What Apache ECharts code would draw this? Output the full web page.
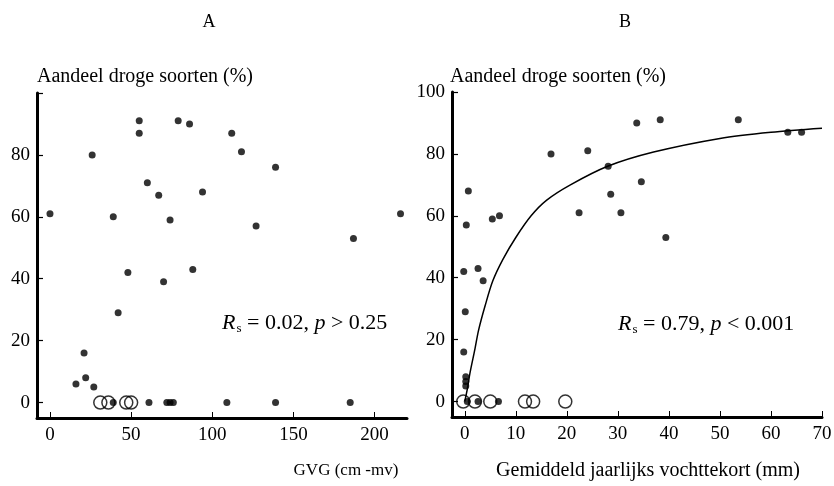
<!DOCTYPE html>
<html>
<head>
<meta charset="utf-8">
<script src="https://cdn.jsdelivr.net/npm/echarts@6/dist/echarts.min.js"></script>
<style>
html,body{margin:0;padding:0;background:#fff;}
#c{width:834px;height:486px;}
</style>
</head>
<body>
<div id="c"></div>
<script>
// Panel A: GVG (cm -mv) vs Aandeel droge soorten (%)
const aFilledX = [0, 26, 39, 55, 55, 60, 67, 74, 79, 86, 94, 112, 118, 127, 139, 187, 216, 48, 88, 70, 42, 21, 22, 16, 27, 39, 61, 72, 74, 76, 109, 139, 185];
const aFilledY = [61, 80, 60, 91, 87, 71, 67, 59, 91, 90, 68, 87, 81, 57, 76, 53, 61, 42, 43, 39, 29, 16, 8, 6, 5, 0, 0, 0, 0, 0, 0, 0, 0];
const aOpenX = [31, 36, 47, 50];
const aOpenY = [0, 0, 0, 0];
const aXTicks = [0, 50, 100, 150, 200];
const aYTicks = [0, 20, 40, 60, 80];

// Panel B: Gemiddeld jaarlijks vochttekort (mm) vs Aandeel droge soorten (%)
const bFilledX = [0.7, 0.3, 5.4, 6.8, 16.9, 24.1, 22.4, 28.1, 28.6, 30.6, 33.7, 34.6, 38.3, 39.4, 53.6, 63.3, 66, -0.2, 2.6, 3.6, 0.1, -0.2, 0.2, 0.2, 0.2, 0.5, 2.6, 6.6];
const bFilledY = [68, 57, 59, 60, 80, 81, 61, 76, 67, 61, 90, 71, 91, 53, 91, 87, 87, 42, 43, 39, 29, 16, 8, 6.5, 5, 0, 0, 0];
const bOpenX = [-0.3, 2, 5, 11.8, 13.4, 19.7];
const bOpenY = [0, 0, 0, 0, 0, 0];
const bCurveX = [0, 0.5, 1, 2, 2.7, 4, 5.5, 7.5, 10, 13, 16, 20.7, 28, 37, 50, 60, 70];
const bCurveY = [0, 4, 9, 17, 23, 31, 39, 46, 53, 60, 65, 70, 76, 80.6, 85, 87, 88.3];
const bXTicks = [0, 10, 20, 30, 40, 50, 60, 70];
const bYTicks = [0, 20, 40, 60, 80, 100];

const FONT = 'Liberation Serif';
const zip = (xs, ys) => xs.map((x, i) => [x, ys[i]]);

function xAxisCfg(idx, min, max, ticks) {
  return {
    type: 'value', gridIndex: idx, min: min, max: max,
    splitLine: {show: false},
    axisLine: {show: true, onZero: false, lineStyle: {color: '#000', width: 3}},
    axisTick: {show: true, inside: true, length: 6, customValues: ticks, lineStyle: {color: '#000', width: 1}},
    axisLabel: {show: true, customValues: ticks, margin: 8, color: '#000', fontFamily: FONT, fontSize: 19}
  };
}
function yAxisCfg(idx, min, max, ticks, labels) {
  return {
    type: 'value', gridIndex: idx, min: min, max: max,
    splitLine: {show: false},
    axisLine: {show: true, onZero: false, lineStyle: {color: '#000', width: 3}},
    axisTick: {show: true, inside: true, length: 6, customValues: ticks, lineStyle: {color: '#000', width: 1.2}},
    axisLabel: {show: true, customValues: labels, margin: 7, color: '#000', fontFamily: FONT, fontSize: 19}
  };
}

const statRich = {
  i: {fontFamily: FONT, fontStyle: 'italic', fontSize: 22, fill: '#000'},
  sub: {fontFamily: FONT, fontSize: 13, padding: [12, 0, 0, 1], fill: '#000'},
  n: {fontFamily: FONT, fontSize: 22, fill: '#000'}
};

const chart = echarts.init(document.getElementById('c'), null, {renderer: 'canvas'});
chart.setOption({
  backgroundColor: '#fff',
  animation: false,
  grid: [
    {left: 37, top: 93, width: 370, height: 325, outerBoundsMode: 'none', containLabel: false},
    {left: 452, top: 92, width: 370, height: 325, outerBoundsMode: 'none', containLabel: false}
  ],
  xAxis: [
    xAxisCfg(0, -8, 220, aXTicks),
    xAxisCfg(1, -2.5, 70, bXTicks)
  ],
  yAxis: [
    yAxisCfg(0, -5, 100, aYTicks.concat([100]), aYTicks),
    yAxisCfg(1, -5, 100, bYTicks, bYTicks)
  ],
  series: [
    {type: 'scatter', xAxisIndex: 0, yAxisIndex: 0, data: zip(aOpenX, aOpenY), symbol: 'circle', symbolSize: 13,
      itemStyle: {color: 'rgba(0,0,0,0)', borderColor: '#000', borderWidth: 1.5}},
    {type: 'scatter', xAxisIndex: 0, yAxisIndex: 0, data: zip(aFilledX, aFilledY), symbol: 'circle', symbolSize: 7,
      itemStyle: {color: '#000'}},
    {type: 'line', xAxisIndex: 1, yAxisIndex: 1, data: zip(bCurveX, bCurveY), smooth: 0.3, showSymbol: false,
      lineStyle: {color: '#000', width: 1.5}},
    {type: 'scatter', xAxisIndex: 1, yAxisIndex: 1, data: zip(bOpenX, bOpenY), symbol: 'circle', symbolSize: 13,
      itemStyle: {color: 'rgba(0,0,0,0)', borderColor: '#000', borderWidth: 1.5}},
    {type: 'scatter', xAxisIndex: 1, yAxisIndex: 1, data: zip(bFilledX, bFilledY), symbol: 'circle', symbolSize: 7,
      itemStyle: {color: '#000'}}
  ],
  graphic: [
    {type: 'text', x: 209, y: 22, style: {text: 'A', fontFamily: FONT, fontSize: 18, fill: '#000', align: 'center', verticalAlign: 'middle'}},
    {type: 'text', x: 625, y: 22, style: {text: 'B', fontFamily: FONT, fontSize: 18, fill: '#000', align: 'center', verticalAlign: 'middle'}},
    {type: 'text', x: 37, y: 77, style: {text: 'Aandeel droge soorten (%)', fontFamily: FONT, fontSize: 20, fill: '#000', align: 'left', verticalAlign: 'middle'}},
    {type: 'text', x: 450, y: 77, style: {text: 'Aandeel droge soorten (%)', fontFamily: FONT, fontSize: 20, fill: '#000', align: 'left', verticalAlign: 'middle'}},
    {type: 'text', x: 346, y: 471, style: {text: 'GVG (cm -mv)', fontFamily: FONT, fontSize: 17, fill: '#000', align: 'center', verticalAlign: 'middle'}},
    {type: 'text', x: 648, y: 471, style: {text: 'Gemiddeld jaarlijks vochttekort (mm)', fontFamily: FONT, fontSize: 20, fill: '#000', align: 'center', verticalAlign: 'middle'}},
    {type: 'text', x: 222, y: 323, style: {text: '{i|R}{sub|s}{n| = 0.02, }{i|p}{n| > 0.25}', rich: statRich, align: 'left', verticalAlign: 'middle'}},
    {type: 'text', x: 618, y: 324, style: {text: '{i|R}{sub|s}{n| = 0.79, }{i|p}{n| < 0.001}', rich: statRich, align: 'left', verticalAlign: 'middle'}}
  ]
});
</script>
</body>
</html>
